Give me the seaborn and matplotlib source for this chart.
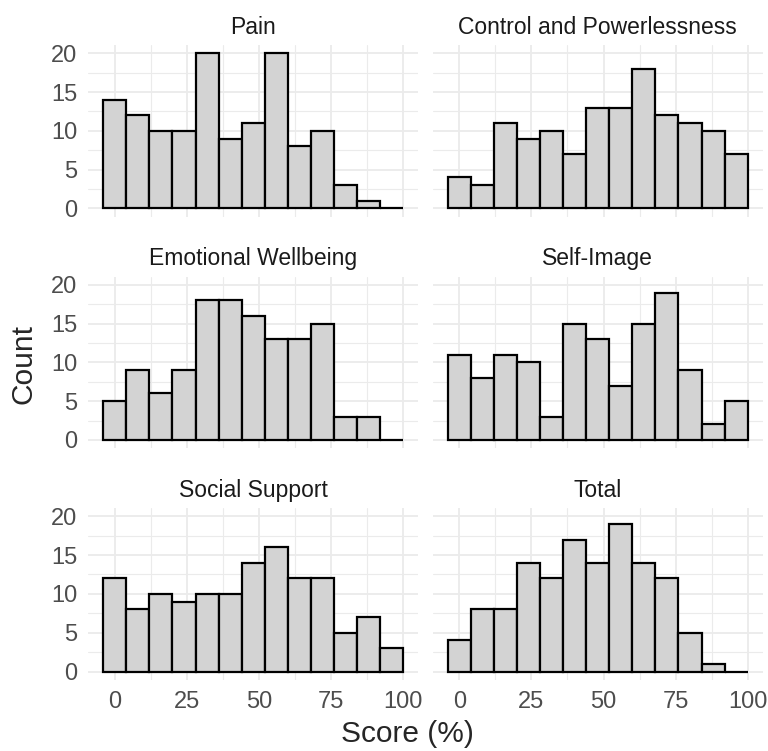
import pandas as pd
import numpy as np
import matplotlib
matplotlib.use("Agg")
import matplotlib.pyplot as plt
from matplotlib.ticker import MultipleLocator
import seaborn as sns

# bin edges (width 8, centred on 0, 8, ..., 96)
BIN_EDGES = list(range(-4, 101, 8))
BIN_CENTRES = [e + 4 for e in BIN_EDGES[:-1]]

DOMAINS = ["Pain", "Control and Powerlessness", "Emotional Wellbeing",
           "Self-Image", "Social Support", "Total"]

pain = [14, 12, 10, 10, 20, 9, 11, 20, 8, 10, 3, 1, 0]
control = [4, 3, 11, 9, 10, 7, 13, 13, 18, 12, 11, 10, 7]
emotional = [5, 9, 6, 9, 18, 18, 16, 13, 13, 15, 3, 3, 0]
self_image = [11, 8, 11, 10, 3, 15, 13, 7, 15, 19, 9, 2, 5]
social = [12, 8, 10, 9, 10, 10, 14, 16, 12, 12, 5, 7, 3]
total = [4, 8, 8, 14, 12, 17, 14, 19, 14, 12, 5, 1, 0]

COUNTS = [pain, control, emotional, self_image, social, total]


def main():
    rows = []
    for name, counts in zip(DOMAINS, COUNTS):
        for c, n in zip(BIN_CENTRES, counts):
            rows.append({"domain": name, "score": c, "n": n})
    df = pd.DataFrame(rows)

    sns.set_theme(style="white")
    plt.rcParams['font.family'] = ['Liberation Sans', 'DejaVu Sans']

    g = sns.FacetGrid(df, col="domain", col_wrap=2, col_order=DOMAINS,
                      sharex=True, sharey=True, height=2.5, aspect=1.3)
    g.map_dataframe(sns.histplot, x="score", weights="n", bins=BIN_EDGES,
                    color="#D3D3D3", edgecolor="black", linewidth=1.6, alpha=1)
    g.set_titles("{col_name}", size=16.5, color="#1A1A1A", pad=8)
    g.set_axis_labels("", "")

    fig = g.figure
    fig.set_size_inches(7.68, 7.51)
    fig.subplots_adjust(left=0.115, right=0.993, top=0.94, bottom=0.095,
                        wspace=0.045, hspace=0.35)

    for ax in g.axes.flat:
        ax.set_xlim(-9.2, 105.2)
        ax.set_ylim(-1.05, 21.05)
        ax.set_xticks([0, 25, 50, 75, 100])
        ax.set_yticks([0, 5, 10, 15, 20])
        ax.xaxis.set_minor_locator(MultipleLocator(12.5))
        ax.yaxis.set_minor_locator(MultipleLocator(2.5))
        ax.grid(which="major", color="#EBEBEB", linewidth=1.3)
        ax.grid(which="minor", color="#EBEBEB", linewidth=0.8)
        ax.set_axisbelow(True)
        for s in ax.spines.values():
            s.set_visible(False)
        ax.tick_params(which="both", length=0, labelsize=17,
                       labelcolor="#4D4D4D")
        ax.tick_params(axis="y", pad=8)
        ax.tick_params(axis="x", pad=8)

    fig.text(0.53, 0.004, "Score (%)", ha="center", va="bottom", fontsize=21.5)
    fig.text(0.012, 0.515, "Count", ha="left", va="center", rotation=90,
             fontsize=21.5)

    fig.savefig("out.png", dpi=100)
    plt.close(fig)


if __name__ == "__main__":
    main()
